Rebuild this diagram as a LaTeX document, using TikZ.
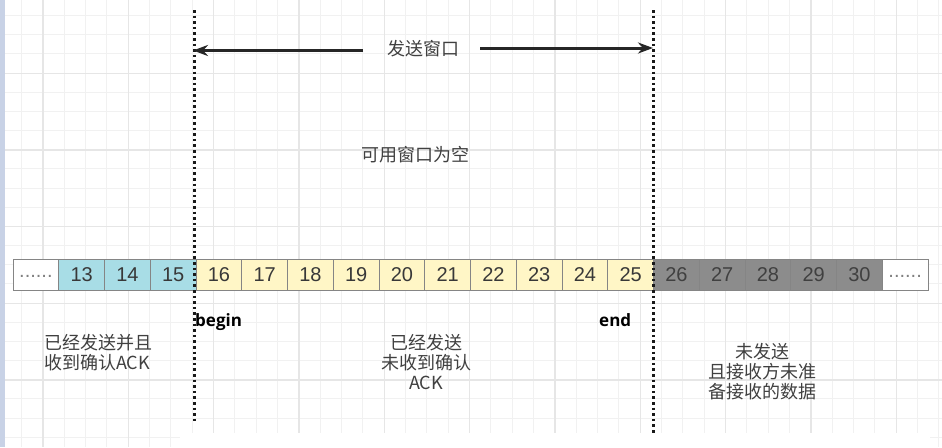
\documentclass[tikz,border=0pt]{standalone}
\usepackage{fontspec}
\setmainfont{Liberation Sans}
\newfontfamily\cjk{Noto Sans CJK SC}
\newfontfamily\lbfont{Open Sans}
\usetikzlibrary{arrows.meta}
\definecolor{minorg}{HTML}{F1F1F1}
\definecolor{majorg}{HTML}{E6E6E6}
\definecolor{strip}{HTML}{C8D2E6}
\definecolor{ackblue}{HTML}{A8DDE6}
\definecolor{sentyel}{HTML}{FFF6C6}
\definecolor{notgray}{HTML}{8C8C8C}
\definecolor{cellborder}{HTML}{858585}
\definecolor{txt}{HTML}{404040}
\begin{document}
\begin{tikzpicture}[x=1pt,y=-1pt,
  minorline/.style={draw=minorg,line width=1pt},
  majorline/.style={draw=majorg,line width=1.3pt},
  cell/.style={draw=cellborder,line width=0.9pt,minimum width=45.75pt,minimum height=31pt,inner sep=0pt,
    font=\fontsize{20}{20}\selectfont,text=black!78},
  dotcell/.style={cell,fill=white,text=gray},
  ackcell/.style={cell,fill=ackblue},
  sentcell/.style={cell,fill=sentyel},
  notcell/.style={cell,fill=notgray,text=black!75},
  cjklabel/.style={font=\cjk\fontsize{18}{20}\selectfont,text=txt,inner sep=0pt},
  boldlabel/.style={font=\lbfont\bfseries\fontsize{17}{17}\selectfont,text=black,inner sep=0pt},
  sepline/.style={line width=3pt,dash pattern=on 2.6pt off 3pt,black!90},
  arr/.style={line width=3pt,draw=black!85,-{Stealth[length=15pt,width=11pt]}}
]
\useasboundingbox (0,0) rectangle (942,447);
\fill[white] (0,0) rectangle (942,447);
% grid
\foreach \i in {0,...,44} \draw[minorline] ({0.33+21.333*\i},0) -- ({0.33+21.333*\i},447);
\foreach \i in {0,...,23} \draw[minorline] (0,{15.63+19.167*\i}) -- (942,{15.63+19.167*\i});
\foreach \i in {0,...,10} \draw[majorline] ({43+85.333*\i},0) -- ({43+85.333*\i},447);
\foreach \i in {1,...,5} \draw[majorline] (0,{-3.3+76.667*\i}) -- (942,{-3.3+76.667*\i});
\fill[white] (180,433) rectangle (930,447);
\fill[strip] (0,0) rectangle (4.5,447);

% cells
\node[dotcell] (d0) at ({13+45.75*0.5},274.5) {\raisebox{-6pt}{......}};
\foreach \n [count=\k] in {13,14,15}
  \node[ackcell] (c\n) at ({13+45.75*(\k+0.5)},274.5) {\n};
\foreach \n [count=\k from 4] in {16,...,25}
  \node[sentcell] (c\n) at ({13+45.75*(\k+0.5)},274.5) {\n};
\foreach \n [count=\k from 14] in {26,...,30}
  \node[notcell] (c\n) at ({13+45.75*(\k+0.5)},274.5) {\n};
\node[dotcell] (d1) at ({13+45.75*19.5},274.5) {\raisebox{-6pt}{......}};

% separators
\coordinate (lt) at (194,10);
\coordinate (lb) at (194,424);
\coordinate (rt) at (653,10);
\coordinate (rb) at (653,433);
\draw[sepline] (lt) -- (lb);
\draw[sepline] (rt) -- (rb);

% send window
\node[cjklabel] (send) at (423,49) {发送窗口};
\coordinate (al) at (363,50.5);
\coordinate (ale) at (193,50.5);
\coordinate (ar) at (480,48);
\coordinate (are) at (653,48);
\draw[arr] (al) -- (ale);
\draw[arr] (ar) -- (are);

\node[cjklabel] (avail) at (415,155) {可用窗口为空};

\node[boldlabel,anchor=west] (begin) at (195,322) {begin};
\node[boldlabel,anchor=west] (end) at (599,320) {end};

\node[cjklabel,align=left,anchor=west] (acked) at (44,353) {已经发送并且\\收到确认ACK};
\node[cjklabel,align=center] (sent) at (426,362.5) {已经发送\\未收到确认\\ACK};
\node[cjklabel,align=center] (notsent) at (762,372) {未发送\\且接收方未准\\备接收的数据};
\end{tikzpicture}
\end{document}
